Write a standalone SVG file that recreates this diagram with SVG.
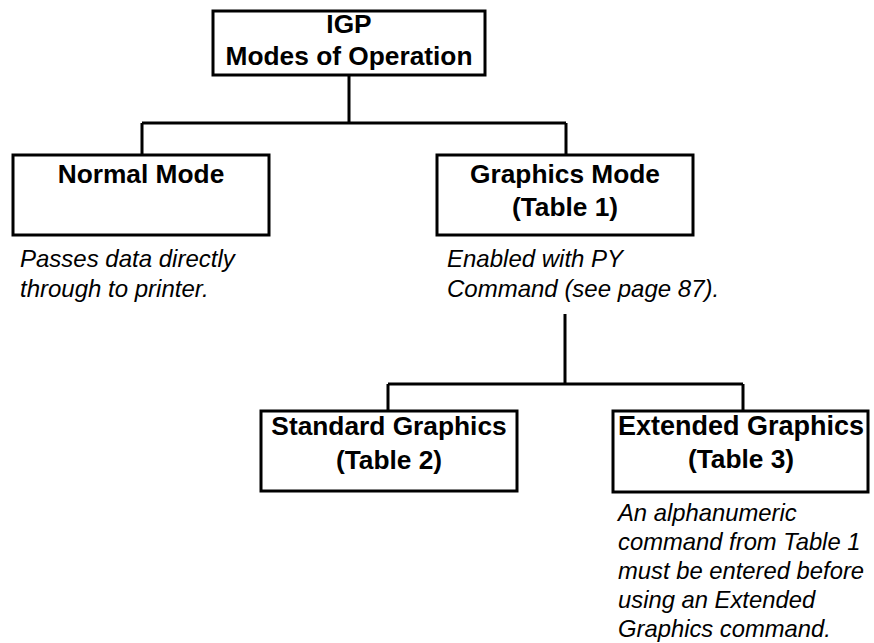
<svg xmlns="http://www.w3.org/2000/svg" width="874" height="643" viewBox="0 0 874 643">
  <style>
    .box { fill: #ffffff; stroke: #000000; stroke-width: 3; }
    .wire { fill: none; stroke: #000000; stroke-width: 3; }
    .title { font-family: "Liberation Sans", Arial, sans-serif; font-weight: bold; font-size: 26.3px; fill: #000000; text-anchor: middle; }
    .note { font-family: "Liberation Sans", Arial, sans-serif; font-style: italic; font-size: 24px; fill: #000000; }
    .note-sm { font-family: "Liberation Sans", Arial, sans-serif; font-style: italic; font-size: 23.8px; fill: #000000; }
  </style>
  <rect width="874" height="643" fill="#ffffff"/>

  <!-- tree connectors -->
  <g id="connectors">
    <path class="wire" d="M349 75 V123 M142 123 H566 M142 123 V155 M566 123 V155"/>
    <path class="wire" d="M565 314 V384 M388 384 H743 M388 384 V411 M743 384 V411"/>
  </g>

  <g id="igp">
    <rect class="box" x="213" y="11" width="272" height="64"/>
    <text class="title" x="349" y="33">IGP</text>
    <text class="title" x="349" y="65">Modes of Operation</text>
  </g>

  <g id="normal-mode">
    <rect class="box" x="13" y="155" width="256" height="80"/>
    <text class="title" x="141" y="183">Normal Mode</text>
    <text class="note" x="20" y="267">Passes data directly</text>
    <text class="note" x="20" y="297">through to printer.</text>
  </g>

  <g id="graphics-mode">
    <rect class="box" x="437" y="155" width="256" height="80"/>
    <text class="title" x="565" y="183">Graphics Mode</text>
    <text class="title" x="565" y="216">(Table 1)</text>
    <text class="note" x="447" y="267">Enabled with PY</text>
    <text class="note" x="447" y="297">Command (see page 87).</text>
  </g>

  <g id="standard-graphics">
    <rect class="box" x="261" y="411" width="256" height="80"/>
    <text class="title" x="389" y="435">Standard Graphics</text>
    <text class="title" x="389" y="469">(Table 2)</text>
  </g>

  <g id="extended-graphics">
    <rect class="box" x="613" y="411" width="255" height="81"/>
    <text class="title" x="741" y="435" style="font-size:27px">Extended Graphics</text>
    <text class="title" x="741" y="468">(Table 3)</text>
    <text class="note-sm" x="618" y="521">An alphanumeric</text>
    <text class="note-sm" x="618" y="550">command from Table 1</text>
    <text class="note-sm" x="618" y="579">must be entered before</text>
    <text class="note-sm" x="618" y="608">using an Extended</text>
    <text class="note-sm" x="618" y="637">Graphics command.</text>
  </g>
</svg>
